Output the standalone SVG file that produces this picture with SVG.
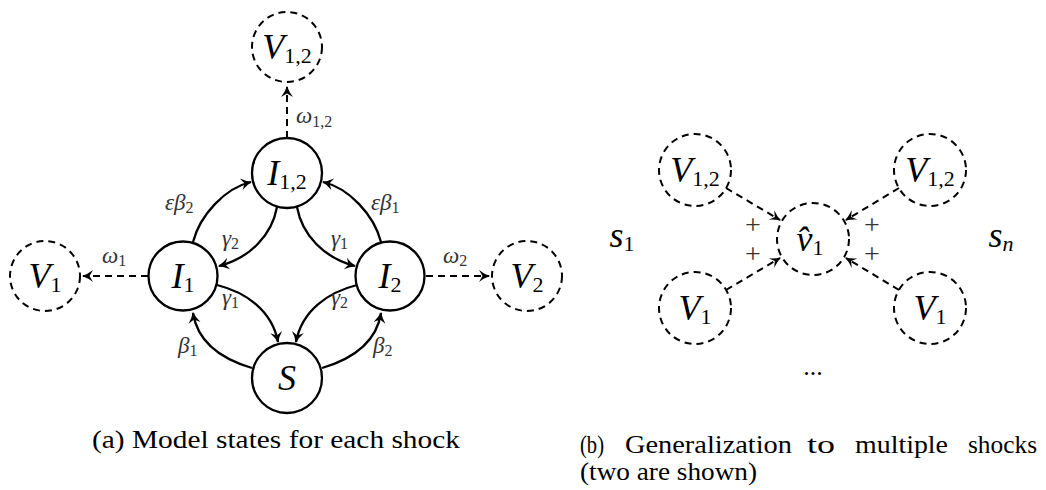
<svg xmlns="http://www.w3.org/2000/svg" width="1046" height="490" viewBox="0 0 1046 490">
<style>
  .solid { fill: none; stroke: #000; stroke-width: 2.3; }
  .dcirc { fill: none; stroke: #000; stroke-width: 2; stroke-dasharray: 7 5; }
  .dline { fill: none; stroke: #000; stroke-width: 2; stroke-dasharray: 7 5; }
  .node { fill: #fff; stroke: #000; stroke-width: 2.3; }
</style>
<defs>
  <marker id="arr" viewBox="-12 -7 14 14" markerWidth="14" markerHeight="14" refX="0" refY="0" orient="auto" markerUnits="userSpaceOnUse">
    <path d="M1,0 Q-5,-2 -10,-6 L-6.5,0 L-10,6 Q-5,2 1,0 Z" fill="#000"/>
  </marker>
  <marker id="arrb" viewBox="-12 -7 14 14" markerWidth="14" markerHeight="14" refX="0" refY="0" orient="auto" markerUnits="userSpaceOnUse">
    <path d="M1,0 Q-5,-2 -10,-5.5 L-6,0 L-10,5.5 Q-5,2 1,0 Z" fill="#000"/>
  </marker>
</defs>

<!-- Panel (a) connectors -->
<g id="connectors-a">
  <path class="solid" d="M193,242 C200,215 225,188 251,182" marker-end="url(#arr)"/>
  <path class="solid" d="M381,242 C374,215 349,188 323,182" marker-end="url(#arr)"/>
  <path class="solid" d="M277,207 C272,235 250,258 219,266" marker-end="url(#arr)"/>
  <path class="solid" d="M297,207 C302,235 324,258 355,266" marker-end="url(#arr)"/>
  <path class="solid" d="M217,285 C245,292 272,310 278,342" marker-end="url(#arr)"/>
  <path class="solid" d="M357,285 C329,292 302,310 296,342" marker-end="url(#arr)"/>
  <path class="solid" d="M252,368 C225,360 198,345 193,313" marker-end="url(#arr)"/>
  <path class="solid" d="M322,368 C349,360 376,345 381,313" marker-end="url(#arr)"/>
  <path class="dline" d="M148,276 L83,276" marker-end="url(#arr)"/>
  <path class="dline" d="M426,276 L489,276" marker-end="url(#arr)"/>
  <path class="dline" d="M287,138 L287,87" marker-end="url(#arr)"/>
</g>

<!-- Panel (a) edge labels -->
<g id="edge-labels-a" fill="#333">
  <text x="296" y="123" font-family="Liberation Serif" font-size="23" font-style="italic">ω<tspan font-size="16" font-style="normal" dy="4">1,2</tspan></text>
  <text x="102" y="263" font-family="Liberation Serif" font-size="23" font-style="italic">ω<tspan font-size="16" font-style="normal" dy="3">1</tspan></text>
  <text x="443" y="263" font-family="Liberation Serif" font-size="23" font-style="italic">ω<tspan font-size="16" font-style="normal" dy="3">2</tspan></text>
  <text x="165" y="210" font-family="Liberation Serif" font-size="23" font-style="italic">εβ<tspan font-size="16" font-style="normal" dy="3">2</tspan></text>
  <text x="371" y="210" font-family="Liberation Serif" font-size="23" font-style="italic">εβ<tspan font-size="16" font-style="normal" dy="3">1</tspan></text>
  <text x="222" y="246" font-family="Liberation Serif" font-size="23" font-style="italic">γ<tspan font-size="16" font-style="normal" dy="3">2</tspan></text>
  <text x="331" y="246" font-family="Liberation Serif" font-size="23" font-style="italic">γ<tspan font-size="16" font-style="normal" dy="3">1</tspan></text>
  <text x="222" y="305" font-family="Liberation Serif" font-size="23" font-style="italic">γ<tspan font-size="16" font-style="normal" dy="3">1</tspan></text>
  <text x="331" y="305" font-family="Liberation Serif" font-size="23" font-style="italic">γ<tspan font-size="16" font-style="normal" dy="3">2</tspan></text>
  <text x="178" y="353" font-family="Liberation Serif" font-size="23" font-style="italic">β<tspan font-size="16" font-style="normal" dy="3">1</tspan></text>
  <text x="373" y="353" font-family="Liberation Serif" font-size="23" font-style="italic">β<tspan font-size="16" font-style="normal" dy="3">2</tspan></text>
</g>

<!-- Panel (a) nodes -->
<g id="node-V12a">
  <circle class="dcirc" cx="287" cy="47" r="35"/>
  <text x="287" y="59" font-family="Liberation Serif" font-size="36" font-style="italic" text-anchor="middle">V<tspan font-size="22" font-style="normal" dy="4">1,2</tspan></text>
</g>
<g id="node-I12">
  <circle class="node" cx="287" cy="173" r="35"/>
  <text x="287" y="185" font-family="Liberation Serif" font-size="36" font-style="italic" text-anchor="middle">I<tspan font-size="22" font-style="normal" dy="4">1,2</tspan></text>
</g>
<g id="node-I1">
  <circle class="node" cx="183" cy="276" r="34.5"/>
  <text x="183" y="288" font-family="Liberation Serif" font-size="36" font-style="italic" text-anchor="middle">I<tspan font-size="22" font-style="normal" dy="4">1</tspan></text>
</g>
<g id="node-I2">
  <circle class="node" cx="390" cy="276" r="34.5"/>
  <text x="390" y="288" font-family="Liberation Serif" font-size="36" font-style="italic" text-anchor="middle">I<tspan font-size="22" font-style="normal" dy="4">2</tspan></text>
</g>
<g id="node-S">
  <circle class="node" cx="287" cy="378" r="35"/>
  <text x="287" y="390" font-family="Liberation Serif" font-size="36" font-style="italic" text-anchor="middle">S</text>
</g>
<g id="node-V1a">
  <circle class="dcirc" cx="45" cy="276" r="35"/>
  <text x="45" y="288" font-family="Liberation Serif" font-size="36" font-style="italic" text-anchor="middle">V<tspan font-size="22" font-style="normal" dy="4">1</tspan></text>
</g>
<g id="node-V2a">
  <circle class="dcirc" cx="527" cy="276" r="35"/>
  <text x="527" y="288" font-family="Liberation Serif" font-size="36" font-style="italic" text-anchor="middle">V<tspan font-size="22" font-style="normal" dy="4">2</tspan></text>
</g>

<!-- Panel (b) connectors -->
<g id="connectors-b">
  <path class="dline" d="M726,188 L780,220" marker-end="url(#arrb)"/>
  <path class="dline" d="M726,290 L780,258" marker-end="url(#arrb)"/>
  <path class="dline" d="M899,188 L846,220" marker-end="url(#arrb)"/>
  <path class="dline" d="M899,290 L846,258" marker-end="url(#arrb)"/>
</g>

<!-- Panel (b) nodes -->
<g id="node-V12-left">
  <circle class="dcirc" cx="695" cy="170" r="36"/>
  <text x="695" y="182" font-family="Liberation Serif" font-size="36" font-style="italic" text-anchor="middle">V<tspan font-size="22" font-style="normal" dy="4">1,2</tspan></text>
</g>
<g id="node-V12-right">
  <circle class="dcirc" cx="930" cy="170" r="36"/>
  <text x="930" y="182" font-family="Liberation Serif" font-size="36" font-style="italic" text-anchor="middle">V<tspan font-size="22" font-style="normal" dy="4">1,2</tspan></text>
</g>
<g id="node-vhat">
  <circle class="dcirc" cx="813" cy="239" r="36"/>
  <text x="810" y="251" font-family="Liberation Serif" font-size="36" font-style="italic" text-anchor="middle">v&#x302;<tspan font-size="22" font-style="normal" dy="4">1</tspan></text>
</g>
<g id="node-V1-left">
  <circle class="dcirc" cx="695" cy="308" r="36"/>
  <text x="695" y="320" font-family="Liberation Serif" font-size="36" font-style="italic" text-anchor="middle">V<tspan font-size="22" font-style="normal" dy="4">1</tspan></text>
</g>
<g id="node-V1-right">
  <circle class="dcirc" cx="930" cy="308" r="36"/>
  <text x="930" y="320" font-family="Liberation Serif" font-size="36" font-style="italic" text-anchor="middle">V<tspan font-size="22" font-style="normal" dy="4">1</tspan></text>
</g>

<!-- Panel (b) labels -->
<g id="labels-b">
  <text x="753" y="234" font-family="Liberation Serif" font-size="28" fill="#333" text-anchor="middle">+</text>
  <text x="753" y="263" font-family="Liberation Serif" font-size="28" fill="#333" text-anchor="middle">+</text>
  <text x="872" y="234" font-family="Liberation Serif" font-size="28" fill="#333" text-anchor="middle">+</text>
  <text x="872" y="263" font-family="Liberation Serif" font-size="28" fill="#333" text-anchor="middle">+</text>
  <text x="622" y="247" font-family="Liberation Serif" font-size="36" font-style="italic" text-anchor="middle">s<tspan font-size="22" font-style="normal" dy="4">1</tspan></text>
  <text x="1001" y="247" font-family="Liberation Serif" font-size="36" font-style="italic" text-anchor="middle">s<tspan font-size="22" dy="4">n</tspan></text>
  <text x="813" y="375" font-family="Liberation Serif" font-size="26" text-anchor="middle">...</text>
</g>

<!-- Captions -->
<g id="captions">
  <text x="92" y="448" font-family="Liberation Serif" font-size="26" textLength="368" lengthAdjust="spacingAndGlyphs">(a) Model states for each shock</text>
  <text x="580" y="453" font-family="Liberation Serif" font-size="26" textLength="24" lengthAdjust="spacingAndGlyphs">(b)</text>
  <text x="625" y="453" font-family="Liberation Serif" font-size="26" textLength="167" lengthAdjust="spacingAndGlyphs">Generalization</text>
  <text x="807" y="453" font-family="Liberation Serif" font-size="26" textLength="28" lengthAdjust="spacingAndGlyphs">to</text>
  <text x="855" y="453" font-family="Liberation Serif" font-size="26" textLength="93" lengthAdjust="spacingAndGlyphs">multiple</text>
  <text x="968" y="453" font-family="Liberation Serif" font-size="26" textLength="69" lengthAdjust="spacingAndGlyphs">shocks</text>
  <text x="580" y="480" font-family="Liberation Serif" font-size="26" textLength="177" lengthAdjust="spacingAndGlyphs">(two are shown)</text>
</g>
</svg>
